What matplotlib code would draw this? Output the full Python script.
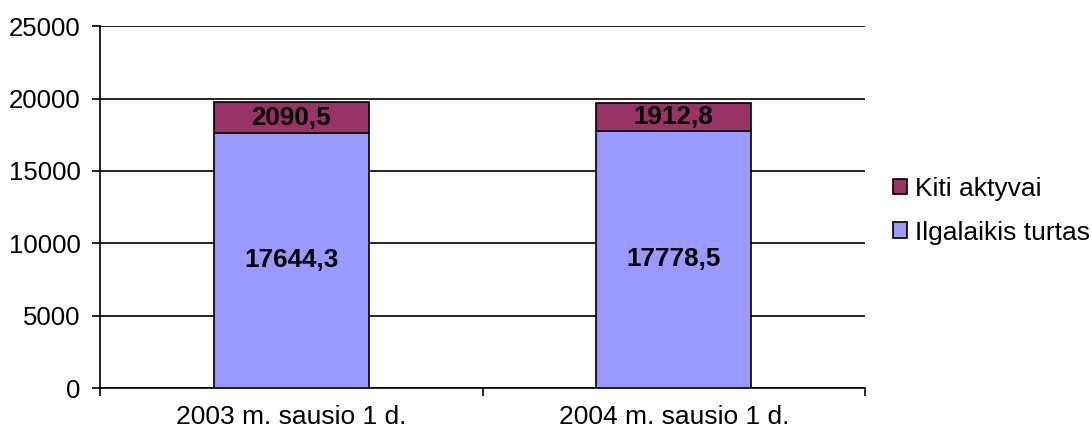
import matplotlib.pyplot as plt

plt.rcParams['font.family'] = ['Liberation Sans', 'DejaVu Sans']

categories = ["2003 m. sausio 1 d.", "2004 m. sausio 1 d."]
ilgalaikis = [17644.3, 17778.5]
kiti = [2090.5, 1912.8]
series_names = ["Ilgalaikis turtas", "Kiti aktyvai"]

fig = plt.figure(figsize=(10.92, 4.36), dpi=100)
ax = fig.add_axes([0.0916, 0.110, 0.7005, 0.830])

x = range(len(categories))
w = 0.405
b1 = ax.bar(x, ilgalaikis, w, color="#9999FF", edgecolor="black", linewidth=1.2,
            label=series_names[0], zorder=3)
b2 = ax.bar(x, kiti, w, bottom=ilgalaikis, color="#993366", edgecolor="black",
            linewidth=1.2, label=series_names[1], zorder=3)

def fmt(v):
    return ("%.1f" % v).replace(".", ",")

for i in x:
    ax.text(i, ilgalaikis[i] / 2, fmt(ilgalaikis[i]), ha="center", va="center",
            fontsize=18.7, fontweight="bold", zorder=4)
    ax.text(i, ilgalaikis[i] + kiti[i] / 2, fmt(kiti[i]), ha="center", va="center",
            fontsize=18.7, fontweight="bold", zorder=4)

ax.set_xlim(-0.5, len(categories) - 0.5)
ax.set_ylim(0, 25000)
ax.set_yticks(range(0, 25001, 5000))
ax.yaxis.grid(True, color="black", linewidth=1.2, zorder=0)
ax.set_xticks([-0.5, 0.5, 1.5])
ax.set_xticklabels([])
ax.set_xticks(list(x), minor=True)
ax.set_xticklabels(categories, minor=True, fontsize=19)
ax.tick_params(axis="x", which="minor", length=0, pad=12)
ax.tick_params(axis="x", which="major", length=6, width=1.2, direction="out")
ax.tick_params(axis="y", length=6, width=1.2, labelsize=18.5, pad=8)
for s in ["top", "right"]:
    ax.spines[s].set_visible(False)
for s in ["left", "bottom"]:
    ax.spines[s].set_linewidth(1.2)

handles = [b2, b1]
ax.legend(handles, [series_names[1], series_names[0]], loc="center left",
          bbox_to_anchor=(1.036, 0.49), frameon=False, fontsize=19,
          handlelength=0.55, handleheight=0.55, handletextpad=0.3, labelspacing=0.75,
          borderpad=0, borderaxespad=0)

fig.savefig("out.png", dpi=100)
